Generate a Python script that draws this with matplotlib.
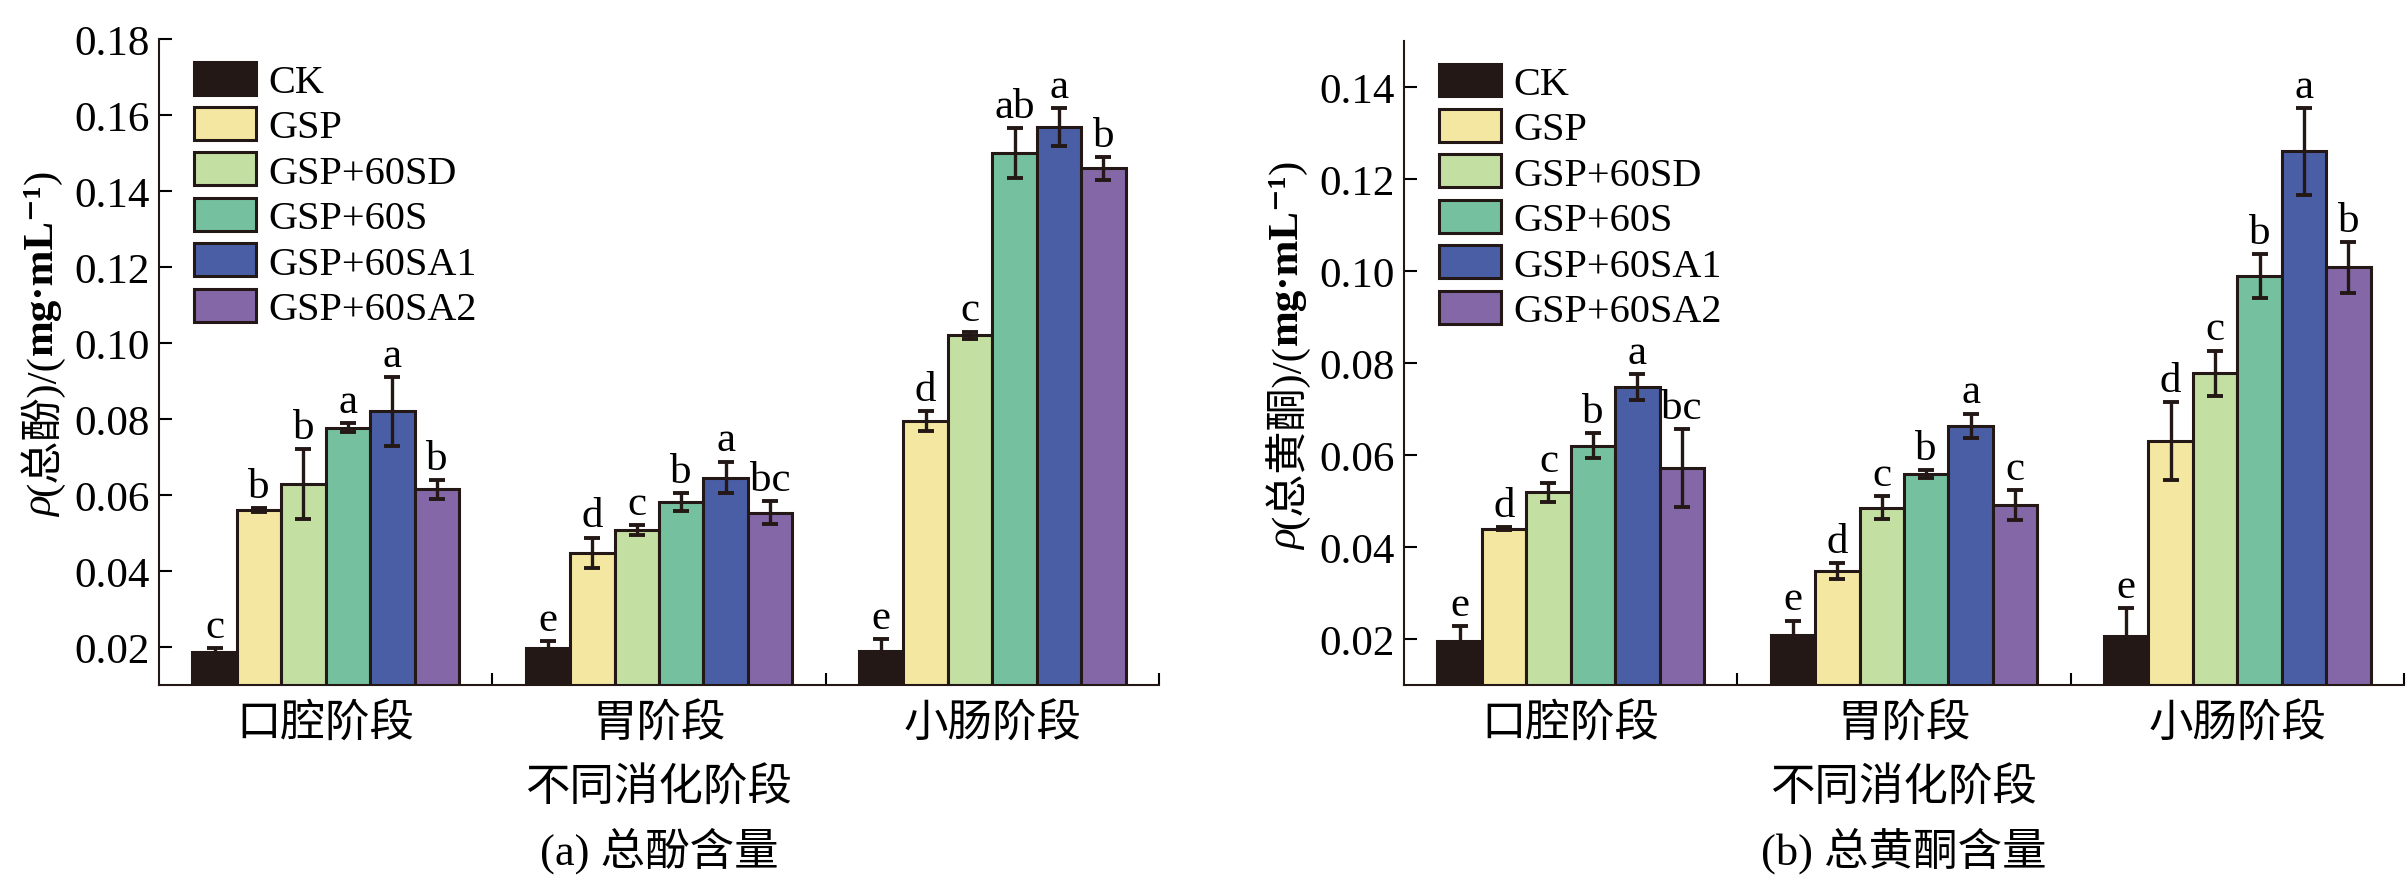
import numpy as np
import matplotlib
matplotlib.use('Agg')
import matplotlib.pyplot as plt

plt.rcParams['font.family'] = ['Liberation Serif', 'Noto Sans CJK SC', 'DejaVu Serif']
plt.rcParams['axes.unicode_minus'] = False

stages = ['口腔阶段', '胃阶段', '小肠阶段']
treatments = ['CK', 'GSP', 'GSP+60SD', 'GSP+60S', 'GSP+60SA1', 'GSP+60SA2']
colors = ['#231815', '#F3E7A1', '#C3DFA2', '#75C19F', '#4A5EA5', '#8467A7']

# rows = treatment, cols = stage
phenol_mean = [[0.0188, 0.0197, 0.0189],
               [0.0561, 0.0448, 0.0794],
               [0.0628, 0.0507, 0.1020],
               [0.0777, 0.0582, 0.1500],
               [0.0820, 0.0646, 0.1568],
               [0.0615, 0.0553, 0.1460]]
phenol_err = [[0.0010, 0.0018, 0.0033],
              [0.0005, 0.0040, 0.0026],
              [0.0092, 0.0013, 0.0010],
              [0.0012, 0.0023, 0.0065],
              [0.0090, 0.0042, 0.0050],
              [0.0025, 0.0030, 0.0030]]
phenol_sig = [['c', 'e', 'e'], ['b', 'd', 'd'], ['b', 'c', 'c'],
              ['a', 'b', 'ab'], ['a', 'a', 'a'], ['b', 'bc', 'b']]

flav_mean = [[0.0195, 0.0209, 0.0206],
             [0.0440, 0.0348, 0.0631],
             [0.0519, 0.0485, 0.0778],
             [0.0620, 0.0558, 0.0989],
             [0.0748, 0.0663, 0.1260],
             [0.0572, 0.0491, 0.1008]]
flav_err = [[0.0033, 0.0031, 0.0061],
            [0.0003, 0.0017, 0.0085],
            [0.0021, 0.0025, 0.0049],
            [0.0027, 0.0009, 0.0047],
            [0.0028, 0.0027, 0.0095],
            [0.0084, 0.0033, 0.0055]]
flav_sig = [['e', 'e', 'e'], ['d', 'd', 'd'], ['c', 'c', 'c'],
            ['b', 'b', 'b'], ['a', 'a', 'a'], ['bc', 'c', 'b']]

W, H = 2406, 879
ink = '#231815'

fig = plt.figure(figsize=(W / 100, H / 100), dpi=100)


def panel(rect, mean, err, sig, ymax, yticks, ylab_parts, ylab_x, ylab_y, caption):
    ax = fig.add_axes(rect)
    x = np.arange(len(stages))
    w = 0.8 / len(treatments)
    for j, name in enumerate(treatments):
        pos = x + (j - 2.5) * w
        ax.bar(pos, mean[j], w, color=colors[j], edgecolor=ink, linewidth=2.2,
               label=name, zorder=2)
        ax.errorbar(pos, mean[j], yerr=err[j], fmt='none', ecolor=ink,
                    elinewidth=2.4, capsize=6, capthick=2.8, zorder=3)
        for k in range(len(stages)):
            ax.annotate(sig[j][k], (pos[k], mean[j][k] + err[j][k]),
                        xytext=(0, 8), textcoords='offset points',
                        ha='center', va='baseline', fontsize=31)
    ax.set_xlim(-0.5, 2.5)
    ax.set_ylim(0.01, ymax)
    ax.set_yticks(yticks)
    ax.set_yticklabels(['%.2f' % v for v in yticks])
    ax.set_xticks(x)
    ax.set_xticklabels(stages)
    ax.set_xticks([0.5, 1.5, 2.5], minor=True)
    ax.tick_params(axis='x', which='major', length=0, pad=13, labelsize=32)
    ax.tick_params(axis='x', which='minor', direction='in', length=9, width=1.5)
    ax.tick_params(axis='y', direction='in', length=9, width=1.5, pad=7, labelsize=31)
    for s in ['top', 'right']:
        ax.spines[s].set_visible(False)
    for s in ['left', 'bottom']:
        ax.spines[s].set_linewidth(1.5)
        ax.spines[s].set_color(ink)
    ax.legend(loc='upper left', bbox_to_anchor=(0.035, 0.965), frameon=False,
              fontsize=29, handlelength=1.55, handleheight=0.88,
              handletextpad=0.3, labelspacing=0.15, borderpad=0, borderaxespad=0)

    cx = (rect[0] + rect[2] / 2)
    fig.text(cx, 1 - 789 / H, '不同消化阶段', ha='center', va='center', fontsize=32)
    fig.text(cx, 1 - 851 / H, caption, ha='center', va='center', fontsize=32)

    # y label stacked piece by piece so rho can be italic
    renderer = fig.canvas.get_renderer()
    y = ylab_y
    for s, kw in ylab_parts:
        t = fig.text(ylab_x / W, y / H, s, rotation=90, ha='center', va='bottom',
                     fontsize=31, **kw)
        y += t.get_window_extent(renderer).height
    return ax


panel([159 / W, 193 / H, 1000 / W, 646 / H], phenol_mean, phenol_err, phenol_sig,
      0.18, np.arange(0.02, 0.181, 0.02),
      [('ρ', {'style': 'italic'}), ('(总酚)/(', {}), ('mg·mL⁻¹', {'weight': 'bold'}), (')', {})],
      42, H - 517, '(a) 总酚含量')
panel([1404 / W, 193 / H, 1000 / W, 644 / H], flav_mean, flav_err, flav_sig,
      0.15, np.arange(0.02, 0.141, 0.02),
      [('ρ', {'style': 'italic'}), ('(总黄酮)/(', {}), ('mg·mL⁻¹', {'weight': 'bold'}), (')', {})],
      1287, H - 550, '(b) 总黄酮含量')

fig.savefig('out.png', dpi=100)
